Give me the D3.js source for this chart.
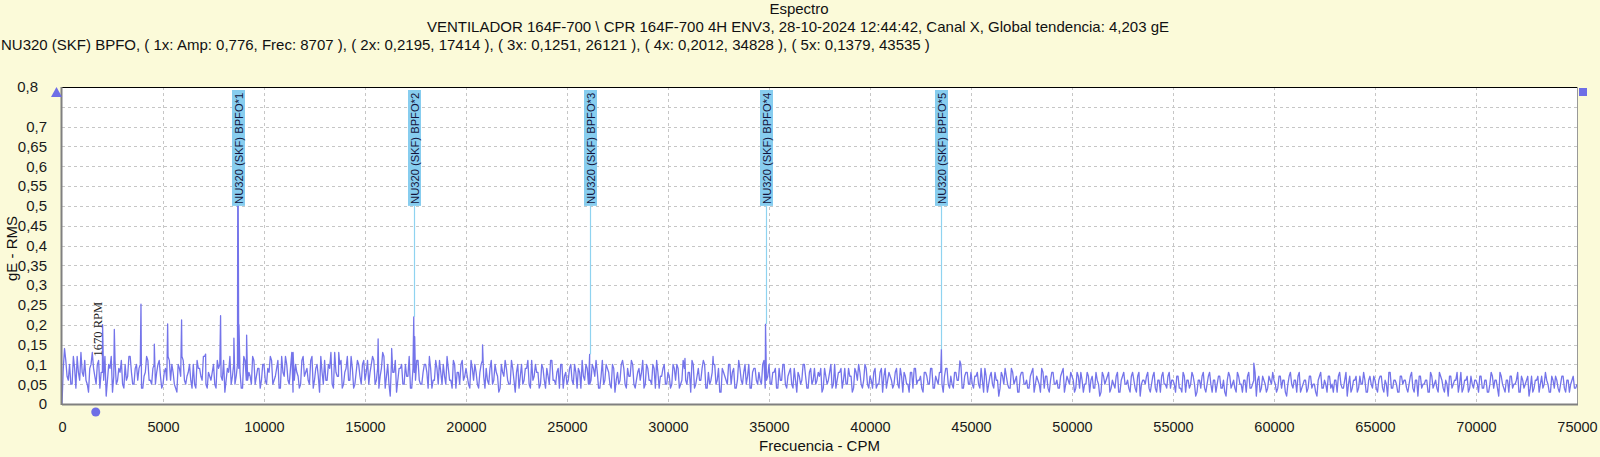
<!DOCTYPE html>
<html lang="es">
<head>
<meta charset="UTF-8">
<title>Espectro</title>
<script src="https://cdn.jsdelivr.net/npm/d3@7"></script>
<style>
    body { margin: 0; background: #fbfad9; }
    svg { display: block; font-family: "Liberation Sans", Arial, sans-serif; }
    .grid line { stroke: #c6c6c6; stroke-dasharray: 3,3; }
    .axis text { fill: #1a1a1a; }
</style>
</head>
<body>
<svg id="chart" width="1600" height="457"></svg>
<script>
// texts
const title = "Espectro";
const subtitle = "VENTILADOR 164F-700 \\ CPR 164F-700 4H ENV3, 28-10-2024 12:44:42, Canal X, Global tendencia: 4,203 gE";
const faultText = "NU320 (SKF) BPFO, ( 1x: Amp: 0,776, Frec: 8707 ), ( 2x: 0,2195, 17414 ), ( 3x: 0,1251, 26121 ), ( 4x: 0,2012, 34828 ), ( 5x: 0,1379, 43535 )";
const xTitle = "Frecuencia - CPM";
const yTitle = "gE - RMS";

// BPFO harmonics
const harmFreq = [8707, 17414, 26121, 34828, 43535];
const harmAmp = [0.776, 0.2195, 0.1251, 0.2012, 0.1379];
const harmLabel = ["NU320 (SKF) BPFO*1", "NU320 (SKF) BPFO*2", "NU320 (SKF) BPFO*3", "NU320 (SKF) BPFO*4", "NU320 (SKF) BPFO*5"];

// running speed marker
const rpmFreq = 1670;
const rpmLabel = "1670 RPM";

// tick values
const xTicks = [0, 5000, 10000, 15000, 20000, 25000, 30000, 35000, 40000, 45000, 50000, 55000, 60000, 65000, 70000, 75000];
const yTicks = [0, 0.05, 0.1, 0.15, 0.2, 0.25, 0.3, 0.35, 0.4, 0.45, 0.5, 0.55, 0.6, 0.65, 0.7, 0.8];
const yGrid = [0.05, 0.1, 0.15, 0.2, 0.25, 0.3, 0.35, 0.4, 0.45, 0.5, 0.55, 0.6, 0.65, 0.7, 0.75];

// discrete lines sticking out of the noise floor (CPM, gE)
const peakFreq = [2010, 2590, 3910, 4570, 5230, 5920, 7110, 7850, 8510, 8707, 8760, 9140, 11440, 13700, 15650, 16320, 17414, 17460, 20820, 26121, 30840, 32230, 34828, 43535, 44450, 59000];
const peakAmp = [0.20, 0.188, 0.252, 0.151, 0.202, 0.212, 0.126, 0.223, 0.166, 0.776, 0.20, 0.174, 0.13, 0.13, 0.164, 0.14, 0.2195, 0.17, 0.149, 0.1251, 0.115, 0.12, 0.2012, 0.1379, 0.109, 0.103];

// noise floor, one reading every 125 CPM from 0 to 75000
const specStep = 125;
const specAmp = [
    0, .14, .07, .10, .05, .09, .12, .06, .08, .11, .05, .09, .13, .07, .10, .04, .08, .12, .06, .09,
    .03, .11, .06, .08, .05, .10, .07, .12, .05, .09, .06, .10, .04, .08, .11, .06, .09, .05, .10, .07,
    .05, .09, .12, .06, .08, .04, .10, .07, .11, .05, .08, .06, .10, .04, .09, .07, .12, .05, .08, .06,
    .10, .04, .09, .07, .11, .06, .08, .05, .10, .07, .09, .04, .12, .06, .08, .05, .11, .07, .09, .06,
    .10, .05, .08, .11, .06, .09, .04, .12, .07, .10, .05, .13, .06, .08, .04, .11, .07, .09, .05, .12,
    .06, .10, .03, .08, .11, .06, .09, .05, .13, .07, .10, .04, .08, .12, .06, .09, .05, .11, .07, .10,
    .06, .11, .08, .12, .05, .09, .07, .13, .04, .10, .02, .08, .11, .06, .09, .05, .10, .07, .04, .09,
    .06, .11, .05, .08, .10, .04, .09, .06, .11, .05, .08, .10, .05, .09, .06, .11, .04, .08, .10, .06,
    .09, .05, .11, .06, .08, .04, .10, .07, .09, .05, .11, .06, .08, .03, .10, .07, .09, .05, .11, .06,
    .08, .04, .10, .06, .09, .05, .11, .07, .08, .04, .10, .06, .09, .05, .11, .06, .08, .04, .10, .07,
    .05, .09, .06, .10, .04, .08, .11, .06, .09, .05, .10, .07, .08, .04, .11, .06, .09, .05, .10, .03,
    .08, .06, .11, .05, .09, .07, .10, .04, .08, .06, .11, .05, .09, .06, .10, .04, .08, .07, .09, .05,
    .08, .04, .10, .06, .09, .05, .11, .06, .08, .03, .10, .05, .09, .06, .11, .04, .08, .06, .10, .05,
    .09, .03, .08, .06, .10, .05, .09, .04, .11, .06, .08, .05, .10, .04, .09, .06, .08, .05, .11, .06,
    .10, .05, .08, .04, .09, .06, .10, .04, .08, .05, .09, .03, .07, .06, .10, .04, .08, .05, .09, .06,
    .07, .03, .09, .05, .08, .04, .10, .06, .08, .04, .09, .05, .07, .03, .09, .06, .08, .04, .10, .05,
    .07, .04, .09, .05, .08, .03, .09, .06, .07, .04, .08, .05, .09, .03, .07, .05, .08, .04, .09, .06,
    .07, .03, .08, .05, .09, .04, .07, .05, .08, .03, .09, .05, .07, .04, .08, .06, .10, .04, .08, .05,
    .08, .04, .07, .05, .09, .03, .07, .05, .08, .04, .06, .02, .08, .05, .07, .04, .09, .05, .07, .03,
    .08, .05, .06, .04, .08, .03, .07, .05, .09, .04, .07, .03, .08, .05, .06, .04, .08, .03, .07, .05,
    .07, .03, .08, .04, .06, .05, .08, .03, .07, .04, .06, .02, .08, .05, .07, .03, .06, .04, .08, .03,
    .07, .05, .06, .03, .08, .04, .07, .02, .06, .05, .08, .03, .07, .04, .06, .03, .08, .05, .07, .04,
    .06, .03, .07, .04, .08, .03, .06, .05, .07, .02, .06, .04, .08, .03, .07, .05, .06, .03, .07, .04,
    .06, .02, .08, .04, .06, .03, .07, .05, .06, .03, .08, .04, .06, .02, .07, .04, .06, .03, .07, .05,
    .06, .03, .07, .04, .06, .02, .07, .05, .06, .03, .08, .04, .06, .03, .07, .04, .05, .02, .07, .04,
    .06, .03, .07, .05, .06, .03, .08, .04, .06, .02, .07, .04, .06, .03, .07, .05, .06, .03, .07, .04,
    .06, .03, .07, .04, .06, .02, .08, .04, .06, .03, .07, .05, .06, .03, .07, .04, .06, .02, .07, .05,
    .06, .03, .08, .04, .06, .03, .07, .04, .06, .02, .07, .05, .06, .03, .08, .04, .06, .03, .07, .04,
    .06, .03, .07, .04, .06, .03, .08, .04, .06, .02, .07, .04, .06, .03, .07, .05, .06, .03, .07, .04,
    .06, .02, .07, .04, .06, .03, .07, .05, .06, .03, .07, .04, .06, .03, .07, .04, .06, .03, .06, .04, .05
];
// in-between readings, at 62.5 CPM + every 125 CPM
const specAmpMid = [
    .09, .11, .06, .05, .12, .04, .08, .13, .07, .06, .03, .10, .09, .05, .11, .08, .06, .02, .10, .12,
    .07, .05, .09, .11, .04, .06, .12, .08, .05, .10, .09, .04, .07, .12, .06, .05, .10, .08, .11, .04,
    .08, .06, .11, .10, .05, .03, .09, .12, .06, .07, .10, .04, .05, .11, .09, .06, .12, .04, .07, .08,
    .05, .11, .10, .06, .03, .09, .12, .07, .05, .10, .08, .04, .11, .06, .07, .12, .05, .09, .04, .10,
    .06, .09, .12, .05, .07, .11, .04, .08, .12, .06, .09, .03, .10, .07, .05, .12, .08, .06, .11, .04,
    .09, .07, .12, .05, .06, .10, .13, .04, .08, .07, .11, .05, .09, .06, .12, .04, .08, .10, .05, .11,
    .08, .05, .10, .11, .06, .04, .09, .12, .07, .05, .11, .08, .03, .09, .10, .05, .07, .12, .04, .08,
    .11, .06, .05, .10, .08, .12, .04, .06, .09, .11, .05, .07, .12, .06, .04, .10, .08, .05, .11, .07,
    .07, .04, .09, .10, .05, .08, .11, .04, .06, .09, .05, .10, .07, .04, .08, .11, .06, .05, .09, .03,
    .10, .07, .05, .09, .11, .04, .06, .10, .08, .05, .09, .04, .07, .11, .06, .05, .09, .10, .04, .08,
    .06, .10, .05, .08, .09, .04, .07, .10, .05, .06, .09, .11, .04, .07, .05, .10, .08, .04, .09, .06,
    .05, .10, .09, .04, .07, .11, .05, .06, .09, .08, .04, .10, .06, .05, .09, .11, .04, .07, .10, .05,
    .07, .05, .09, .10, .04, .06, .09, .05, .08, .11, .04, .07, .06, .09, .10, .04, .05, .08, .10, .06,
    .03, .09, .07, .05, .10, .08, .04, .06, .09, .05, .10, .07, .04, .08, .09, .05, .06, .10, .04, .07,
    .05, .08, .09, .04, .06, .10, .05, .07, .09, .04, .06, .08, .05, .10, .07, .04, .09, .06, .05, .08,
    .09, .04, .07, .06, .10, .05, .04, .08, .09, .06, .05, .09, .07, .04, .08, .10, .05, .06, .09, .04,
    .06, .08, .04, .05, .09, .07, .04, .08, .06, .05, .09, .04, .07, .08, .05, .03, .08, .09, .05, .06,
    .04, .08, .07, .05, .09, .04, .06, .08, .05, .07, .09, .04, .05, .08, .06, .10, .04, .07, .08, .05,
    .05, .07, .08, .04, .06, .09, .03, .07, .05, .08, .06, .04, .07, .09, .05, .04, .08, .06, .03, .07,
    .08, .05, .04, .07, .09, .05, .06, .03, .08, .07, .04, .06, .08, .05, .04, .07, .09, .05, .06, .08,
    .06, .04, .07, .08, .03, .05, .07, .06, .04, .08, .05, .03, .07, .06, .08, .04, .05, .07, .03, .06,
    .08, .05, .04, .07, .06, .03, .08, .05, .06, .07, .04, .05, .08, .03, .06, .07, .05, .04, .08, .06,
    .05, .07, .04, .03, .07, .06, .04, .08, .05, .03, .06, .07, .04, .05, .08, .03, .06, .05, .07, .04,
    .03, .06, .07, .05, .04, .08, .05, .03, .06, .07, .04, .05, .08, .06, .03, .07, .05, .04, .06, .08,
    .05, .04, .07, .06, .03, .05, .08, .04, .06, .07, .03, .05, .06, .04, .07, .05, .03, .06, .08, .04,
    .05, .07, .04, .03, .06, .07, .05, .04, .08, .05, .03, .06, .07, .04, .05, .08, .03, .06, .05, .07,
    .04, .06, .07, .03, .05, .08, .04, .06, .05, .03, .07, .06, .04, .05, .08, .03, .06, .07, .04, .05,
    .06, .03, .07, .05, .04, .08, .06, .03, .05, .07, .04, .06, .08, .05, .03, .06, .07, .04, .05, .06,
    .05, .07, .04, .06, .03, .05, .07, .06, .04, .08, .05, .03, .06, .07, .04, .05, .08, .03, .06, .05,
    .07, .04, .03, .06, .07, .05, .04, .08, .05, .03, .06, .07, .04, .05, .07, .03, .06, .05, .07, .04
];

let svg = d3.select('#chart');
const W = 1600, H = 457;
const plot = {left: 62, right: 1577, top: 87, bottom: 404};

svg.append('rect').attr('width', W).attr('height', H).attr('fill', '#fbfad9');

let x = d3.scaleLinear().domain([0, 75000]).range([plot.left, plot.right]);
let y = d3.scaleLinear().domain([0, 0.8]).range([plot.bottom, plot.top]);

// plot background
svg.append('rect')
    .attr('x', plot.left).attr('y', plot.top)
    .attr('width', plot.right - plot.left).attr('height', plot.bottom - plot.top)
    .attr('fill', '#ffffff');

// grid
let grid = svg.append('g').attr('class', 'grid');
grid.selectAll('line.gx')
    .data(xTicks.filter(d => d > 0 && d < 75000))
    .enter().append('line')
    .attr('x1', d => x(d) + 0.5).attr('x2', d => x(d) + 0.5)
    .attr('y1', plot.top).attr('y2', plot.bottom);
grid.selectAll('line.gy')
    .data(yGrid)
    .enter().append('line')
    .attr('x1', plot.left).attr('x2', plot.right)
    .attr('y1', d => Math.round(y(d)) + 0.5).attr('y2', d => Math.round(y(d)) + 0.5);

// spectrum: noise floor readings plus the discrete lines
let points = specAmp.map((a, i) => ({f: i * specStep, a: a}));
specAmpMid.forEach((a, i) => points.push({f: i * specStep + specStep / 2, a: a}));
peakFreq.forEach((f, i) => points.push({f: f, a: peakAmp[i]}));
points.sort((p, q) => p.f - q.f);

svg.append('clipPath').attr('id', 'clip')
    .append('rect').attr('x', plot.left).attr('y', plot.top)
    .attr('width', plot.right - plot.left).attr('height', plot.bottom - plot.top);

let line = d3.line().x(d => x(d.f)).y(d => y(d.a));
svg.append('path')
    .datum(points)
    .attr('clip-path', 'url(#clip)')
    .attr('d', line)
    .attr('fill', 'none')
    .attr('stroke', '#7474ea')
    .attr('stroke-width', 1.3)
    .attr('stroke-linejoin', 'round');

// harmonic markers
let markers = svg.append('g');
harmFreq.forEach((f, i) => {
    let cx = Math.round(x(f)) + 0.5;
    if (harmAmp[i] < 0.5) {
        markers.append('line')
            .attr('x1', cx).attr('x2', cx)
            .attr('y1', y(0.5)).attr('y2', y(harmAmp[i]))
            .attr('stroke', '#8fd3f0').attr('stroke-width', 1.2);
    }
    markers.append('rect')
        .attr('x', cx - 6.5).attr('y', plot.top + 3)
        .attr('width', 13).attr('height', y(0.5) - plot.top - 3)
        .attr('fill', '#87cdef');
    markers.append('text')
        .attr('transform', `translate(${cx + 4.5},${y(0.5) - 2}) rotate(-90)`)
        .attr('font-size', 11.5)
        .attr('textLength', 111)
        .attr('lengthAdjust', 'spacingAndGlyphs')
        .attr('fill', '#14143c')
        .text(harmLabel[i]);
});

// rpm marker
svg.append('text')
    .attr('transform', `translate(${x(rpmFreq) + 6},${y(0.12)}) rotate(-90)`)
    .attr('font-family', '"Liberation Serif", "Times New Roman", serif')
    .attr('font-size', 12.5)
    .attr('fill', '#222')
    .text(rpmLabel);
svg.append('circle')
    .attr('cx', x(rpmFreq)).attr('cy', plot.bottom + 8).attr('r', 4.5)
    .attr('fill', '#6e6ee6');

// borders
svg.append('line').attr('x1', plot.left).attr('x2', plot.right)
    .attr('y1', plot.top + 0.5).attr('y2', plot.top + 0.5).attr('stroke', '#000');
svg.append('line').attr('x1', plot.right + 0.5).attr('x2', plot.right + 0.5)
    .attr('y1', plot.top).attr('y2', plot.bottom).attr('stroke', '#999');
svg.append('line').attr('x1', plot.left).attr('x2', plot.right + 1)
    .attr('y1', plot.bottom + 0.5).attr('y2', plot.bottom + 0.5).attr('stroke', '#808080').attr('stroke-width', 2);
svg.append('line').attr('x1', plot.left - 0.5).attr('x2', plot.left - 0.5)
    .attr('y1', plot.top).attr('y2', plot.bottom + 1).attr('stroke', '#808080').attr('stroke-width', 2);

// axes
let comma = d => String(+d.toFixed(2)).replace('.', ',');
let yAxis = svg.append('g').attr('class', 'axis')
    .attr('transform', `translate(${plot.left},0)`)
    .call(d3.axisLeft(y).tickValues(yTicks).tickSize(0).tickPadding(15).tickFormat(comma));
yAxis.select('.domain').remove();
yAxis.selectAll('text').attr('font-size', 15).attr('font-family', '"Liberation Sans", Arial, sans-serif')
    .attr('dx', d => d === 0.8 ? -9 : 0);

let xAxis = svg.append('g').attr('class', 'axis')
    .attr('transform', `translate(0,${plot.bottom})`)
    .call(d3.axisBottom(x).tickValues(xTicks).tickSize(0).tickPadding(18).tickFormat(d3.format('d')));
xAxis.select('.domain').remove();
xAxis.selectAll('text').attr('font-size', 14.5).attr('font-family', '"Liberation Sans", Arial, sans-serif');

// axis end symbols
svg.append('path')
    .attr('d', `M${plot.left - 6},${plot.top + 10} L${plot.left - 0.5},${plot.top} L${plot.left + 5},${plot.top + 10} Z`)
    .attr('transform', 'translate(-5,0)')
    .attr('fill', '#6e6ee6');
svg.append('rect')
    .attr('x', plot.right + 2).attr('y', plot.top + 1).attr('width', 8).attr('height', 8)
    .attr('fill', '#6e6ee6');

// titles
svg.append('text').attr('x', 799).attr('y', 14).attr('text-anchor', 'middle')
    .attr('font-size', 15).attr('fill', '#111').text(title);
svg.append('text').attr('x', 798).attr('y', 32).attr('text-anchor', 'middle')
    .attr('font-size', 15).attr('fill', '#111').text(subtitle);
svg.append('text').attr('x', 1).attr('y', 50)
    .attr('font-size', 15).attr('fill', '#111').text(faultText);

svg.append('text').attr('x', (plot.left + plot.right) / 2).attr('y', 451)
    .attr('text-anchor', 'middle').attr('font-size', 15).attr('fill', '#111').text(xTitle);
svg.append('text')
    .attr('transform', `translate(17,${(plot.top + plot.bottom) / 2 + 3}) rotate(-90)`)
    .attr('text-anchor', 'middle').attr('font-size', 15).attr('fill', '#111').text(yTitle);
</script>
</body>
</html>
